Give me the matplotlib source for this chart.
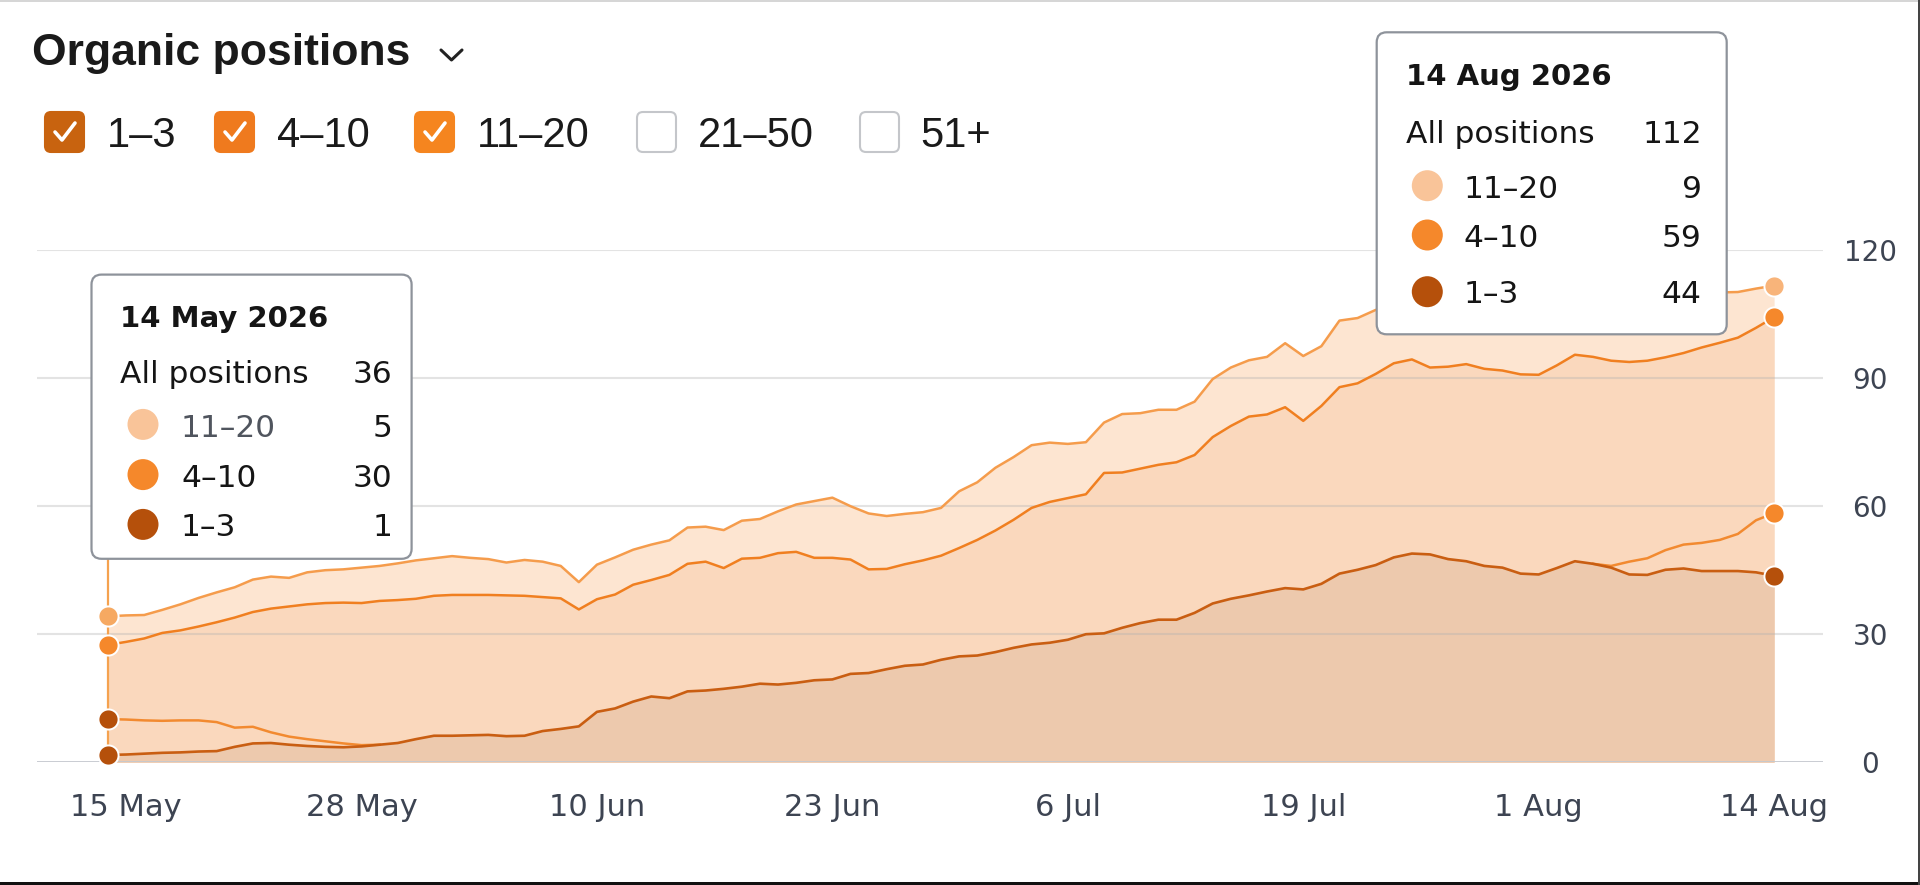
import numpy as np
import matplotlib
matplotlib.use('Agg')
import matplotlib.pyplot as plt
import matplotlib.dates as mdates
from matplotlib.patches import FancyBboxPatch, Circle, Rectangle
from matplotlib.lines import Line2D

# daily values, 14 May 2026 .. 14 Aug 2026
dates = np.arange(np.datetime64('2026-05-14'), np.datetime64('2026-08-15'))

# top line (11-20)
top_1120 = [34.2, 34.4, 34.5, 35.7, 37.0, 38.5, 39.8, 41.0, 42.8, 43.5,
            43.2, 44.5, 45.0, 45.2, 45.6, 46.0, 46.6, 47.3, 47.8, 48.3,
            47.9, 47.6, 46.8, 47.4, 47.0, 46.0, 42.2, 46.3, 48.0, 49.8,
            51.0, 52.0, 55.0, 55.2, 54.4, 56.6, 57.0, 58.8, 60.4, 61.2,
            62.0, 60.0, 58.3, 57.7, 58.2, 58.6, 59.6, 63.5, 65.6, 69.0,
            71.5, 74.3, 74.9, 74.6, 75.0, 79.6, 81.6, 81.8, 82.6, 82.6,
            84.5, 89.8, 92.5, 94.2, 95.0, 98.2, 95.2, 97.5, 103.5, 104.1,
            106.0, 106.5, 107.0, 107.5, 107.0, 107.5, 108.0, 108.0, 107.5, 107.8,
            108.2, 108.5, 108.3, 108.6, 109.0, 109.2, 109.5, 109.7, 109.9, 110.1,
            110.2, 111.0, 111.7]

# middle line (4-10)
mid_410 = [27.5, 28.2, 29.0, 30.3, 30.9, 31.8, 32.8, 33.9, 35.2, 36.0,
           36.5, 37.0, 37.3, 37.4, 37.3, 37.8, 38.0, 38.3, 39.0, 39.2,
           39.2, 39.2, 39.1, 39.0, 38.7, 38.4, 35.8, 38.2, 39.3, 41.6,
           42.7, 43.9, 46.5, 47.0, 45.5, 47.7, 47.9, 49.0, 49.3, 47.9,
           47.9, 47.5, 45.2, 45.3, 46.4, 47.3, 48.4, 50.2, 52.1, 54.3,
           56.8, 59.6, 61.0, 61.9, 62.8, 67.8, 67.9, 68.8, 69.7, 70.3,
           72.0, 76.2, 78.8, 81.0, 81.5, 83.2, 80.0, 83.5, 87.9, 88.8,
           91.0, 93.5, 94.4, 92.5, 92.7, 93.3, 92.2, 91.8, 90.9, 90.8,
           93.0, 95.5, 95.0, 94.1, 93.8, 94.1, 94.9, 95.9, 97.2, 98.3,
           99.5, 101.8, 104.3]

# bottom line (1-3)
low_13 = [1.7, 1.8, 2.0, 2.2, 2.3, 2.5, 2.6, 3.6, 4.4, 4.5,
          4.1, 3.8, 3.6, 3.5, 3.7, 4.1, 4.5, 5.4, 6.2, 6.2,
          6.3, 6.4, 6.1, 6.2, 7.3, 7.8, 8.4, 11.8, 12.6, 14.2,
          15.4, 15.0, 16.6, 16.8, 17.2, 17.7, 18.4, 18.2, 18.6, 19.2,
          19.4, 20.7, 20.9, 21.8, 22.6, 22.9, 24.0, 24.8, 25.0, 25.8,
          26.8, 27.6, 28.0, 28.7, 30.0, 30.2, 31.5, 32.6, 33.4, 33.4,
          35.0, 37.2, 38.3, 39.1, 40.0, 40.8, 40.5, 41.8, 44.2, 45.1,
          46.2, 48.0, 48.9, 48.7, 47.6, 47.1, 46.0, 45.6, 44.2, 44.0,
          45.5, 47.1, 46.5, 45.6, 44.0, 43.9, 45.1, 45.4, 44.8, 44.8,
          44.8, 44.5, 43.7]

# extra orange line, only visible where it leaves the 1-3 line
extra_start = [10.1, 10.0, 9.8, 9.7, 9.8, 9.8, 9.4, 8.1, 8.3, 7.0,
               6.0, 5.4, 4.9, 4.4, 4.0, 4.1]
extra_end = [46.5, 46.0, 47.0, 47.8, 49.7, 51.0, 51.4, 52.1, 53.5, 56.7, 58.4]

tick_dates = np.array(['2026-05-15', '2026-05-28', '2026-06-10', '2026-06-23',
                       '2026-07-06', '2026-07-19', '2026-08-01', '2026-08-14'],
                      dtype='datetime64[D]')
tick_labels = ['15 May', '28 May', '10 Jun', '23 Jun', '6 Jul', '19 Jul', '1 Aug', '14 Aug']
y_ticks = [0, 30, 60, 90, 120]

checkbox_labels = ['1–3', '4–10', '11–20', '21–50', '51+']
tip_rows = ['11–20', '4–10', '1–3']
tip_left_title = '14 May 2026'
tip_left_vals = ['36', '5', '30', '1']
tip_right_title = '14 Aug 2026'
tip_right_vals = ['112', '9', '59', '44']

# colours
c_fill_top = '#fde5d1'
c_fill_mid = '#fad8bd'
c_fill_low = '#edc9ad'
c_line_top = '#f59c4c'
c_line_mid = '#f07f20'
c_line_low = '#c95e12'
c_dot_light = '#f8b47a'
c_dot_mid = '#f5882b'
c_dot_dark = '#b5500b'

W, H = 1920, 885
fig = plt.figure(figsize=(W / 100, H / 100), dpi=100)
fig.patch.set_facecolor('white')
tr = fig.dpi_scale_trans


def px(x, y):
    # pixel position (top-left origin) -> inches
    return x / 100, (H - y) / 100


# ---- chart ----
ax = fig.add_axes([37 / W, (H - 762.2) / H, (1823 - 37) / W, 512.0 / H])
ax.set_facecolor('none')
for s in ax.spines.values():
    s.set_visible(False)

ax.fill_between(dates, 0, top_1120, color=c_fill_top, lw=0, zorder=1)
ax.fill_between(dates, 0, mid_410, color=c_fill_mid, lw=0, zorder=2)
ax.fill_between(dates, 0, low_13, color=c_fill_low, lw=0, zorder=3)

for yv in y_ticks[1:]:
    ax.axhline(yv, color='#b0b0b0', alpha=0.35, lw=1.5, zorder=3.5)
ax.axhline(0, color='#c4c8ce', lw=2, zorder=3.6)

ax.vlines(dates[0], 0, 50, color='#f5a24f', lw=1.6, zorder=4)

ax.plot(dates, top_1120, color=c_line_top, lw=1.8, zorder=5)
ax.plot(dates, mid_410, color=c_line_mid, lw=1.8, zorder=5)
ax.plot(dates[:len(extra_start)], extra_start, color='#f28a30', lw=1.8, zorder=5)
ax.plot(dates[-len(extra_end):], extra_end, color='#f28a30', lw=1.8, zorder=5)
ax.plot(dates, low_13, color=c_line_low, lw=1.9, zorder=6)

dot_kw = dict(marker='o', markersize=14.5, markeredgecolor='white',
              markeredgewidth=1.4, clip_on=False, zorder=8, linestyle='none')
ax.plot([dates[0]], [top_1120[0]], markerfacecolor='#f6a962', **dot_kw)
ax.plot([dates[0]], [mid_410[0]], markerfacecolor=c_dot_mid, **dot_kw)
ax.plot([dates[0]], [extra_start[0]], markerfacecolor=c_dot_dark, **dot_kw)
ax.plot([dates[0]], [low_13[0]], markerfacecolor=c_dot_dark, **dot_kw)
ax.plot([dates[-1]], [top_1120[-1]], markerfacecolor=c_dot_light, **dot_kw)
ax.plot([dates[-1]], [mid_410[-1]], markerfacecolor=c_dot_mid, **dot_kw)
ax.plot([dates[-1]], [extra_end[-1]], markerfacecolor=c_dot_mid, **dot_kw)
ax.plot([dates[-1]], [low_13[-1]], markerfacecolor=c_dot_dark, **dot_kw)

x0 = mdates.date2num(dates[0])
x1 = mdates.date2num(dates[-1])
ax.set_xlim(x0 - 3.92, x1 + 2.7)
ax.set_ylim(0, 120)

ax.set_xticks(tick_dates)
ax.set_xticklabels(tick_labels)
ax.set_yticks(y_ticks)
ax.yaxis.tick_right()
ax.tick_params(axis='both', length=0, colors='#3d4452')
ax.tick_params(axis='x', labelsize=22, pad=22)
ax.tick_params(axis='y', labelsize=20, pad=34)
for lbl in ax.get_yticklabels():
    lbl.set_horizontalalignment('center')

# ---- header ----
fig.text(*px(32, 65), 'Organic positions', transform=tr, fontsize=32,
         fontweight='bold', family='Liberation Sans', color='#1a1a1a', va='baseline')
chev = [px(441, 50), px(451.5, 60), px(462, 50)]
fig.add_artist(Line2D([p[0] for p in chev], [p[1] for p in chev], transform=tr,
                      color='#222222', lw=2.2, solid_capstyle='round',
                      solid_joinstyle='round'))

box_x = [45, 215, 415, 637, 860]
lbl_x = [107, 277, 477, 698, 920]
box_fc = ['#c8630f', '#ef7a1e', '#f5851f', 'white', 'white']
checked = [True, True, True, False, False]
for bx, lx, fc, ck, name in zip(box_x, lbl_x, box_fc, checked, checkbox_labels):
    bl = px(bx, 152)
    fig.add_artist(FancyBboxPatch(bl, 0.39, 0.40,
                                  boxstyle='round,pad=0,rounding_size=0.06',
                                  transform=tr, facecolor=fc,
                                  edgecolor=fc if ck else '#c4c6ca',
                                  lw=1.5))
    if ck:
        pts = [px(bx + 10, 132), px(bx + 17, 140), px(bx + 30, 123)]
        fig.add_artist(Line2D([p[0] for p in pts], [p[1] for p in pts], transform=tr,
                              color='white', lw=2.6, solid_capstyle='round',
                              solid_joinstyle='round'))
    fig.text(*px(lx, 147), name, transform=tr, fontsize=30,
             family='Liberation Sans', color='#1a1a1a', va='baseline')


# ---- tooltips ----
def tooltip(left, top, right, bottom, title, vals, row_y, row_base,
            title_base, all_base, circ_x, lab_x, val_x, lab_color):
    bl = px(left, bottom)
    fig.add_artist(FancyBboxPatch(bl, (right - left) / 100, (bottom - top) / 100,
                                  boxstyle='round,pad=0,rounding_size=0.1',
                                  transform=tr, facecolor='white',
                                  edgecolor='#8e939b', lw=1.6, zorder=10))
    fig.text(*px(left + 29, title_base), title, transform=tr, fontsize=21,
             fontweight='bold', color='#151515', va='baseline', zorder=11)
    fig.text(*px(left + 29, all_base), 'All positions', transform=tr, fontsize=22.5,
             color='#151515', va='baseline', zorder=11)
    fig.text(*px(val_x, all_base), vals[0], transform=tr, fontsize=22.5,
             color='#151515', va='baseline', ha='right', zorder=11)
    cols = ['#f9c499', c_dot_mid, c_dot_dark]
    for i, name in enumerate(tip_rows):
        fig.add_artist(Circle(px(circ_x, row_y[i]), 0.155, transform=tr,
                              facecolor=cols[i], edgecolor='none', zorder=11))
        fig.text(*px(lab_x, row_base[i]), name, transform=tr, fontsize=22.5,
                 color=lab_color if i == 0 else '#151515', va='baseline', zorder=11)
        fig.text(*px(val_x, row_base[i]), vals[i + 1], transform=tr, fontsize=22.5,
                 color='#151515', va='baseline', ha='right', zorder=11)


tooltip(91.5, 274.6, 411.6, 558.8, tip_left_title, tip_left_vals,
        [424.4, 474.6, 524.4], [436.7, 486.8, 536.0], 327, 382.6,
        143, 181, 392, '#50555e')
tooltip(1376.7, 32.3, 1726.7, 334.3, tip_right_title, tip_right_vals,
        [185.7, 235.0, 291.7], [198.3, 246.7, 303.3], 85, 143.3,
        1427.3, 1463.3, 1701.7, '#151515')

# screenshot frame edges
fig.add_artist(Rectangle((0, 0), 1, 3 / H, transform=fig.transFigure,
                         facecolor='#111111', edgecolor='none', zorder=20))
fig.add_artist(Rectangle((0, 1 - 2 / H), 1, 2 / H, transform=fig.transFigure,
                         facecolor='#d6d6d6', edgecolor='none', zorder=20))
fig.add_artist(Rectangle((1 - 2 / W, 0), 2 / W, 1, transform=fig.transFigure,
                         facecolor='#444444', edgecolor='none', zorder=20))

fig.savefig('out.png', dpi=100, facecolor='white')
